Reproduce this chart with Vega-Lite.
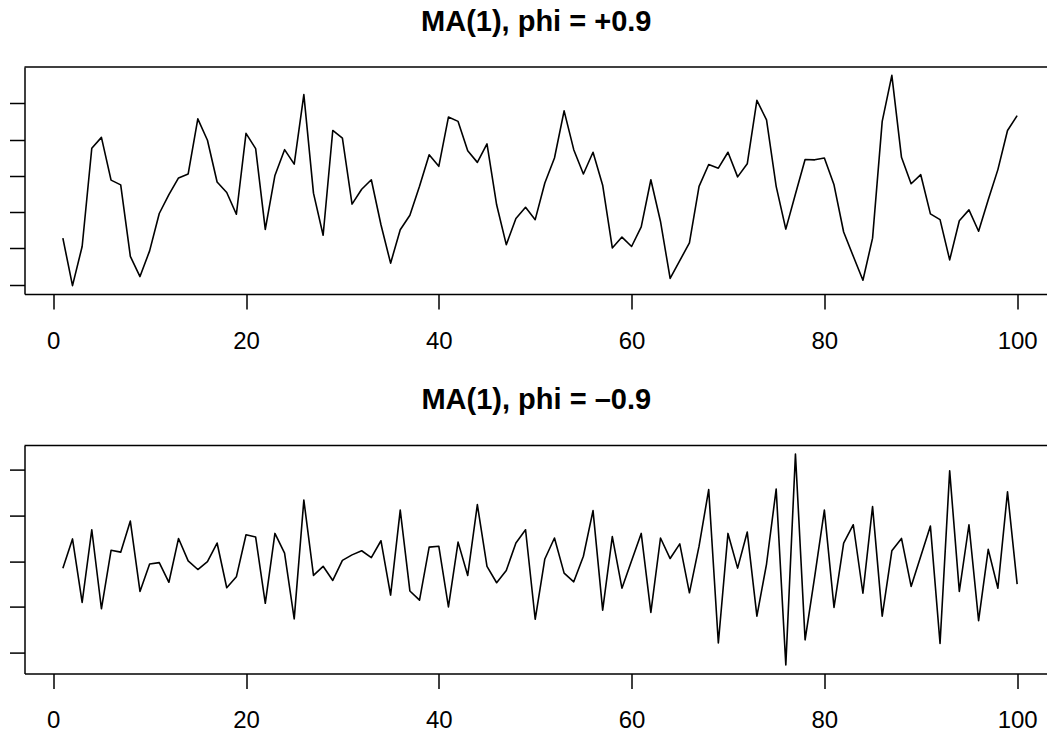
{
  "$schema": "https://vega.github.io/schema/vega-lite/v6.json",
  "background": "white",
  "padding": {"left": 8.5, "top": 7, "right": 0, "bottom": 0},
  "bounds": "flush",
  "spacing": 151.6,
  "config": {
    "view": {"stroke": null},
    "font": "Liberation Sans",
    "axis": {"grid": false, "domainColor": "black", "domainWidth": 1.5, "tickColor": "black", "tickWidth": 1.5, "tickSize": 15, "labelFont": "Liberation Sans", "labelFontSize": 24, "labelColor": "black", "labelPadding": 20, "title": null},
    "title": {"font": "Liberation Sans", "fontSize": 29, "fontWeight": "bold", "color": "black", "baseline": "alphabetic", "offset": 29.5, "anchor": "middle"}
  },
  "datasets": {
    "pos": [
      {"t":1,"v":-0.72},{"t":2,"v":-2.03},{"t":3,"v":-0.95},{"t":4,"v":1.76},{"t":5,"v":2.06},{"t":6,"v":0.88},{"t":7,"v":0.75},{"t":8,"v":-1.22},{"t":9,"v":-1.78},{"t":10,"v":-1.07},
      {"t":11,"v":-0.04},{"t":12,"v":0.48},{"t":13,"v":0.94},{"t":14,"v":1.05},{"t":15,"v":2.57},{"t":16,"v":1.98},{"t":17,"v":0.83},{"t":18,"v":0.54},{"t":19,"v":-0.06},{"t":20,"v":2.17},
      {"t":21,"v":1.75},{"t":22,"v":-0.48},{"t":23,"v":1.01},{"t":24,"v":1.72},{"t":25,"v":1.32},{"t":26,"v":3.24},{"t":27,"v":0.52},{"t":28,"v":-0.64},{"t":29,"v":2.25},{"t":30,"v":2.04},
      {"t":31,"v":0.22},{"t":32,"v":0.63},{"t":33,"v":0.89},{"t":34,"v":-0.35},{"t":35,"v":-1.41},{"t":36,"v":-0.49},{"t":37,"v":-0.09},{"t":38,"v":0.71},{"t":39,"v":1.58},{"t":40,"v":1.26},
      {"t":41,"v":2.62},{"t":42,"v":2.50},{"t":43,"v":1.69},{"t":44,"v":1.37},{"t":45,"v":1.88},{"t":46,"v":0.20},{"t":47,"v":-0.90},{"t":48,"v":-0.18},{"t":49,"v":0.13},{"t":50,"v":-0.21},
      {"t":51,"v":0.80},{"t":52,"v":1.49},{"t":53,"v":2.79},{"t":54,"v":1.72},{"t":55,"v":1.05},{"t":56,"v":1.65},{"t":57,"v":0.74},{"t":58,"v":-0.99},{"t":59,"v":-0.69},{"t":60,"v":-0.95},
      {"t":61,"v":-0.41},{"t":62,"v":0.89},{"t":63,"v":-0.26},{"t":64,"v":-1.83},{"t":65,"v":-1.34},{"t":66,"v":-0.85},{"t":67,"v":0.71},{"t":68,"v":1.31},{"t":69,"v":1.21},{"t":70,"v":1.65},
      {"t":71,"v":0.97},{"t":72,"v":1.33},{"t":73,"v":3.08},{"t":74,"v":2.54},{"t":75,"v":0.71},{"t":76,"v":-0.47},{"t":77,"v":0.50},{"t":78,"v":1.45},{"t":79,"v":1.44},{"t":80,"v":1.49},
      {"t":81,"v":0.75},{"t":82,"v":-0.55},{"t":83,"v":-1.22},{"t":84,"v":-1.88},{"t":85,"v":-0.72},{"t":86,"v":2.50},{"t":87,"v":3.77},{"t":88,"v":1.51},{"t":89,"v":0.78},{"t":90,"v":1.03},
      {"t":91,"v":-0.05},{"t":92,"v":-0.21},{"t":93,"v":-1.32},{"t":94,"v":-0.24},{"t":95,"v":0.06},{"t":96,"v":-0.53},{"t":97,"v":0.34},{"t":98,"v":1.17},{"t":99,"v":2.25},{"t":100,"v":2.66}
    ],
    "neg": [
      {"t":1,"v":-0.15},{"t":2,"v":0.49},{"t":3,"v":-0.90},{"t":4,"v":0.69},{"t":5,"v":-1.04},{"t":6,"v":0.24},{"t":7,"v":0.20},{"t":8,"v":0.88},{"t":9,"v":-0.66},{"t":10,"v":-0.06},
      {"t":11,"v":-0.03},{"t":12,"v":-0.46},{"t":13,"v":0.50},{"t":14,"v":0.01},{"t":15,"v":-0.18},{"t":16,"v":-0.01},{"t":17,"v":0.40},{"t":18,"v":-0.58},{"t":19,"v":-0.34},{"t":20,"v":0.58},
      {"t":21,"v":0.53},{"t":22,"v":-0.92},{"t":23,"v":0.61},{"t":24,"v":0.18},{"t":25,"v":-1.26},{"t":26,"v":1.34},{"t":27,"v":-0.31},{"t":28,"v":-0.11},{"t":29,"v":-0.42},{"t":30,"v":0.02},
      {"t":31,"v":0.14},{"t":32,"v":0.23},{"t":33,"v":0.08},{"t":34,"v":0.45},{"t":35,"v":-0.74},{"t":36,"v":1.12},{"t":37,"v":-0.65},{"t":38,"v":-0.85},{"t":39,"v":0.31},{"t":40,"v":0.33},
      {"t":41,"v":-1.00},{"t":42,"v":0.42},{"t":43,"v":-0.31},{"t":44,"v":1.24},{"t":45,"v":-0.11},{"t":46,"v":-0.47},{"t":47,"v":-0.20},{"t":48,"v":0.40},{"t":49,"v":0.69},{"t":50,"v":-1.27},
      {"t":51,"v":0.05},{"t":52,"v":0.51},{"t":53,"v":-0.26},{"t":54,"v":-0.45},{"t":55,"v":0.11},{"t":56,"v":1.11},{"t":57,"v":-1.07},{"t":58,"v":0.54},{"t":59,"v":-0.59},{"t":60,"v":0.01},
      {"t":61,"v":0.61},{"t":62,"v":-1.12},{"t":63,"v":0.51},{"t":64,"v":0.06},{"t":65,"v":0.38},{"t":66,"v":-0.69},{"t":67,"v":0.33},{"t":68,"v":1.57},{"t":69,"v":-1.79},{"t":70,"v":0.61},
      {"t":71,"v":-0.15},{"t":72,"v":0.64},{"t":73,"v":-1.20},{"t":74,"v":-0.06},{"t":75,"v":1.58},{"t":76,"v":-2.27},{"t":77,"v":2.35},{"t":78,"v":-1.72},{"t":79,"v":-0.33},{"t":80,"v":1.12},
      {"t":81,"v":-1.01},{"t":82,"v":0.40},{"t":83,"v":0.80},{"t":84,"v":-0.70},{"t":85,"v":1.20},{"t":86,"v":-1.20},{"t":87,"v":0.23},{"t":88,"v":0.50},{"t":89,"v":-0.55},{"t":90,"v":0.11},
      {"t":91,"v":0.77},{"t":92,"v":-1.80},{"t":93,"v":1.98},{"t":94,"v":-0.66},{"t":95,"v":0.80},{"t":96,"v":-1.30},{"t":97,"v":0.26},{"t":98,"v":-0.59},{"t":99,"v":1.52},{"t":100,"v":-0.50}
    ]
  },
  "vconcat": [
    {
      "title": {"text": "MA(1), phi = +0.9"},
      "width": 1023.5,
      "height": 227,
      "layer": [
        {
          "data": {"name": "pos"},
          "mark": {"type": "line", "color": "black", "strokeWidth": 1.6, "strokeJoin": "round"},
          "encoding": {
            "x": {"field": "t", "type": "quantitative", "scale": {"domain": [-2.98, 103.2], "nice": false, "zero": false}, "axis": {"values": [0, 20, 40, 60, 80, 100]}},
            "y": {"field": "v", "type": "quantitative", "scale": {"domain": [-2.26, 4.0], "nice": false, "zero": false}, "axis": {"values": [-2, -1, 0, 1, 2, 3], "labels": false}}
          }
        },
        {
          "data": {"values": [{"top": 4.0}]},
          "mark": {"type": "rule", "color": "black", "strokeWidth": 1.5},
          "encoding": {"y": {"field": "top", "type": "quantitative"}}
        }
      ]
    },
    {
      "title": {"text": "MA(1), phi = –0.9"},
      "width": 1023.5,
      "height": 227.8,
      "layer": [
        {
          "data": {"name": "neg"},
          "mark": {"type": "line", "color": "black", "strokeWidth": 1.6, "strokeJoin": "round"},
          "encoding": {
            "x": {"field": "t", "type": "quantitative", "scale": {"domain": [-2.98, 103.2], "nice": false, "zero": false}, "axis": {"values": [0, 20, 40, 60, 80, 100]}},
            "y": {"field": "v", "type": "quantitative", "scale": {"domain": [-2.455, 2.533], "nice": false, "zero": false}, "axis": {"values": [-2, -1, 0, 1, 2], "labels": false}}
          }
        },
        {
          "data": {"values": [{"top": 2.533}]},
          "mark": {"type": "rule", "color": "black", "strokeWidth": 1.5},
          "encoding": {"y": {"field": "top", "type": "quantitative"}}
        }
      ]
    }
  ]
}
